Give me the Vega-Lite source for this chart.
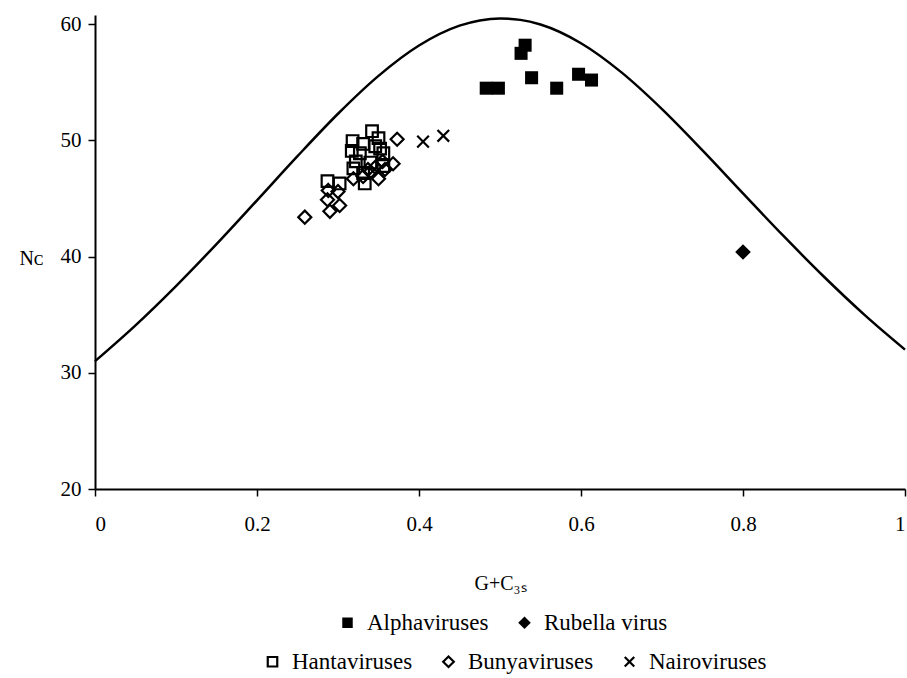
{
  "$schema": "https://vega.github.io/schema/vega-lite/v6.json",
  "autosize": "none",
  "width": 810,
  "height": 474,
  "padding": {"left": 95, "top": 15, "right": 2, "bottom": 189},
  "background": "white",
  "config": {
    "view": {"stroke": null},
    "font": "Liberation Serif",
    "axis": {
      "grid": false,
      "domainColor": "black",
      "domainWidth": 2,
      "tickColor": "black",
      "tickWidth": 1.5,
      "tickSize": 7,
      "labelColor": "black",
      "labelFont": "Liberation Serif",
      "labelFontSize": 21,
      "titleFont": "Liberation Serif",
      "titleFontSize": 20,
      "titleFontWeight": "normal",
      "titleColor": "black"
    },
    "legend": {
      "labelFont": "Liberation Serif",
      "labelFontSize": 23,
      "labelColor": "black",
      "symbolSize": 100,
      "symbolStrokeWidth": 2.2,
      "labelOffset": 8,
      "columnPadding": 24
    }
  },
  "datasets": {
    "curve": [
      {"g": 0.0, "nc": 31.0}, {"g": 0.05, "nc": 34.09}, {"g": 0.1, "nc": 37.47},
      {"g": 0.15, "nc": 41.08}, {"g": 0.2, "nc": 44.85}, {"g": 0.25, "nc": 48.65},
      {"g": 0.3, "nc": 52.3}, {"g": 0.35, "nc": 55.56}, {"g": 0.4, "nc": 58.17},
      {"g": 0.45, "nc": 59.88}, {"g": 0.475, "nc": 60.33}, {"g": 0.5, "nc": 60.5},
      {"g": 0.525, "nc": 60.38}, {"g": 0.55, "nc": 59.98}, {"g": 0.6, "nc": 58.37},
      {"g": 0.65, "nc": 55.86}, {"g": 0.7, "nc": 52.7}, {"g": 0.75, "nc": 49.15},
      {"g": 0.8, "nc": 45.45}, {"g": 0.85, "nc": 41.78}, {"g": 0.9, "nc": 38.27},
      {"g": 0.95, "nc": 34.99}, {"g": 1.0, "nc": 32.0}
    ],
    "filled": [
      {"g": 0.483, "nc": 54.5, "group": "Alphaviruses"},
      {"g": 0.498, "nc": 54.5, "group": "Alphaviruses"},
      {"g": 0.539, "nc": 55.4, "group": "Alphaviruses"},
      {"g": 0.570, "nc": 54.5, "group": "Alphaviruses"},
      {"g": 0.597, "nc": 55.7, "group": "Alphaviruses"},
      {"g": 0.613, "nc": 55.2, "group": "Alphaviruses"},
      {"g": 0.531, "nc": 58.2, "group": "Alphaviruses"},
      {"g": 0.526, "nc": 57.5, "group": "Alphaviruses"},
      {"g": 0.800, "nc": 40.4, "group": "Rubella virus"}
    ],
    "hollow": [
      {"g": 0.342, "nc": 50.8, "group": "Hantaviruses"},
      {"g": 0.318, "nc": 49.95, "group": "Hantaviruses"},
      {"g": 0.331, "nc": 49.7, "group": "Hantaviruses"},
      {"g": 0.346, "nc": 49.5, "group": "Hantaviruses"},
      {"g": 0.352, "nc": 49.3, "group": "Hantaviruses"},
      {"g": 0.317, "nc": 49.1, "group": "Hantaviruses"},
      {"g": 0.327, "nc": 48.9, "group": "Hantaviruses"},
      {"g": 0.356, "nc": 48.9, "group": "Hantaviruses"},
      {"g": 0.322, "nc": 48.2, "group": "Hantaviruses"},
      {"g": 0.340, "nc": 48.1, "group": "Hantaviruses"},
      {"g": 0.319, "nc": 47.6, "group": "Hantaviruses"},
      {"g": 0.331, "nc": 47.2, "group": "Hantaviruses"},
      {"g": 0.287, "nc": 46.5, "group": "Hantaviruses"},
      {"g": 0.302, "nc": 46.3, "group": "Hantaviruses"},
      {"g": 0.333, "nc": 46.3, "group": "Hantaviruses"},
      {"g": 0.350, "nc": 50.2, "group": "Hantaviruses"},
      {"g": 0.356, "nc": 47.8, "group": "Hantaviruses"},
      {"g": 0.373, "nc": 50.1, "group": "Bunyaviruses"},
      {"g": 0.259, "nc": 43.4, "group": "Bunyaviruses"},
      {"g": 0.288, "nc": 45.7, "group": "Bunyaviruses"},
      {"g": 0.287, "nc": 44.9, "group": "Bunyaviruses"},
      {"g": 0.290, "nc": 43.9, "group": "Bunyaviruses"},
      {"g": 0.302, "nc": 44.4, "group": "Bunyaviruses"},
      {"g": 0.300, "nc": 45.6, "group": "Bunyaviruses"},
      {"g": 0.319, "nc": 46.7, "group": "Bunyaviruses"},
      {"g": 0.331, "nc": 46.9, "group": "Bunyaviruses"},
      {"g": 0.350, "nc": 46.7, "group": "Bunyaviruses"},
      {"g": 0.337, "nc": 47.5, "group": "Bunyaviruses"},
      {"g": 0.346, "nc": 47.7, "group": "Bunyaviruses"},
      {"g": 0.355, "nc": 48.2, "group": "Bunyaviruses"},
      {"g": 0.368, "nc": 48.0, "group": "Bunyaviruses"},
      {"g": 0.340, "nc": 47.3, "group": "Bunyaviruses"},
      {"g": 0.358, "nc": 47.5, "group": "Bunyaviruses"},
      {"g": 0.405, "nc": 49.9, "group": "Nairoviruses"},
      {"g": 0.430, "nc": 50.4, "group": "Nairoviruses"}
    ]
  },
  "layer": [
    {
      "data": {"name": "curve"},
      "mark": {"type": "line", "color": "black", "strokeWidth": 2.5, "interpolate": "monotone"},
      "encoding": {
        "x": {
          "field": "g", "type": "quantitative",
          "scale": {"domain": [0, 1], "nice": false, "zero": false},
          "axis": {
            "values": [0, 0.2, 0.4, 0.6, 0.8, 1],
            "format": "~g",
            "labelPadding": 17,
            "title": "G+C₃ₛ",
            "titleX": 405,
            "titleY": 94,
            "titleAlign": "center",
            "titleBaseline": "middle"
          }
        },
        "y": {
          "field": "nc", "type": "quantitative",
          "scale": {"domain": [20, 60.8], "nice": false, "zero": false},
          "axis": {
            "values": [20, 30, 40, 50, 60],
            "labelPadding": 7,
            "title": "Nᴄ",
            "titleAngle": 0,
            "titleAlign": "right",
            "titleBaseline": "middle",
            "titleX": -52,
            "titleY": 243
          }
        }
      }
    },
    {
      "data": {"name": "filled"},
      "mark": {"type": "point", "filled": true, "color": "black", "opacity": 1, "size": 170},
      "encoding": {
        "x": {"field": "g", "type": "quantitative", "scale": {"domain": [0, 1], "nice": false, "zero": false}},
        "y": {"field": "nc", "type": "quantitative", "scale": {"domain": [20, 60.8], "nice": false, "zero": false}},
        "shape": {
          "field": "group", "type": "nominal",
          "scale": {"domain": ["Alphaviruses", "Rubella virus"], "range": ["square", "M0,-1.2L1.2,0L0,1.2L-1.2,0Z"]},
          "legend": {"title": null, "orient": "none", "direction": "horizontal", "legendX": 241, "legendY": 596, "symbolSize": 110}
        }
      }
    },
    {
      "data": {"name": "hollow"},
      "mark": {"type": "point", "filled": false, "color": "black", "strokeWidth": 2.2, "opacity": 1, "size": 135},
      "encoding": {
        "x": {"field": "g", "type": "quantitative", "scale": {"domain": [0, 1], "nice": false, "zero": false}},
        "y": {"field": "nc", "type": "quantitative", "scale": {"domain": [20, 60.8], "nice": false, "zero": false}},
        "shape": {
          "field": "group", "type": "nominal",
          "scale": {"domain": ["Hantaviruses", "Bunyaviruses", "Nairoviruses"], "range": ["square", "M0,-1.12L1.12,0L0,1.12L-1.12,0Z", "M-1,-1L1,1M1,-1L-1,1"]},
          "legend": {"title": null, "orient": "none", "direction": "horizontal", "legendX": 166, "legendY": 635, "symbolSize": 90}
        }
      }
    }
  ],
  "resolve": {
    "scale": {"shape": "independent"},
    "legend": {"shape": "independent"}
  }
}
